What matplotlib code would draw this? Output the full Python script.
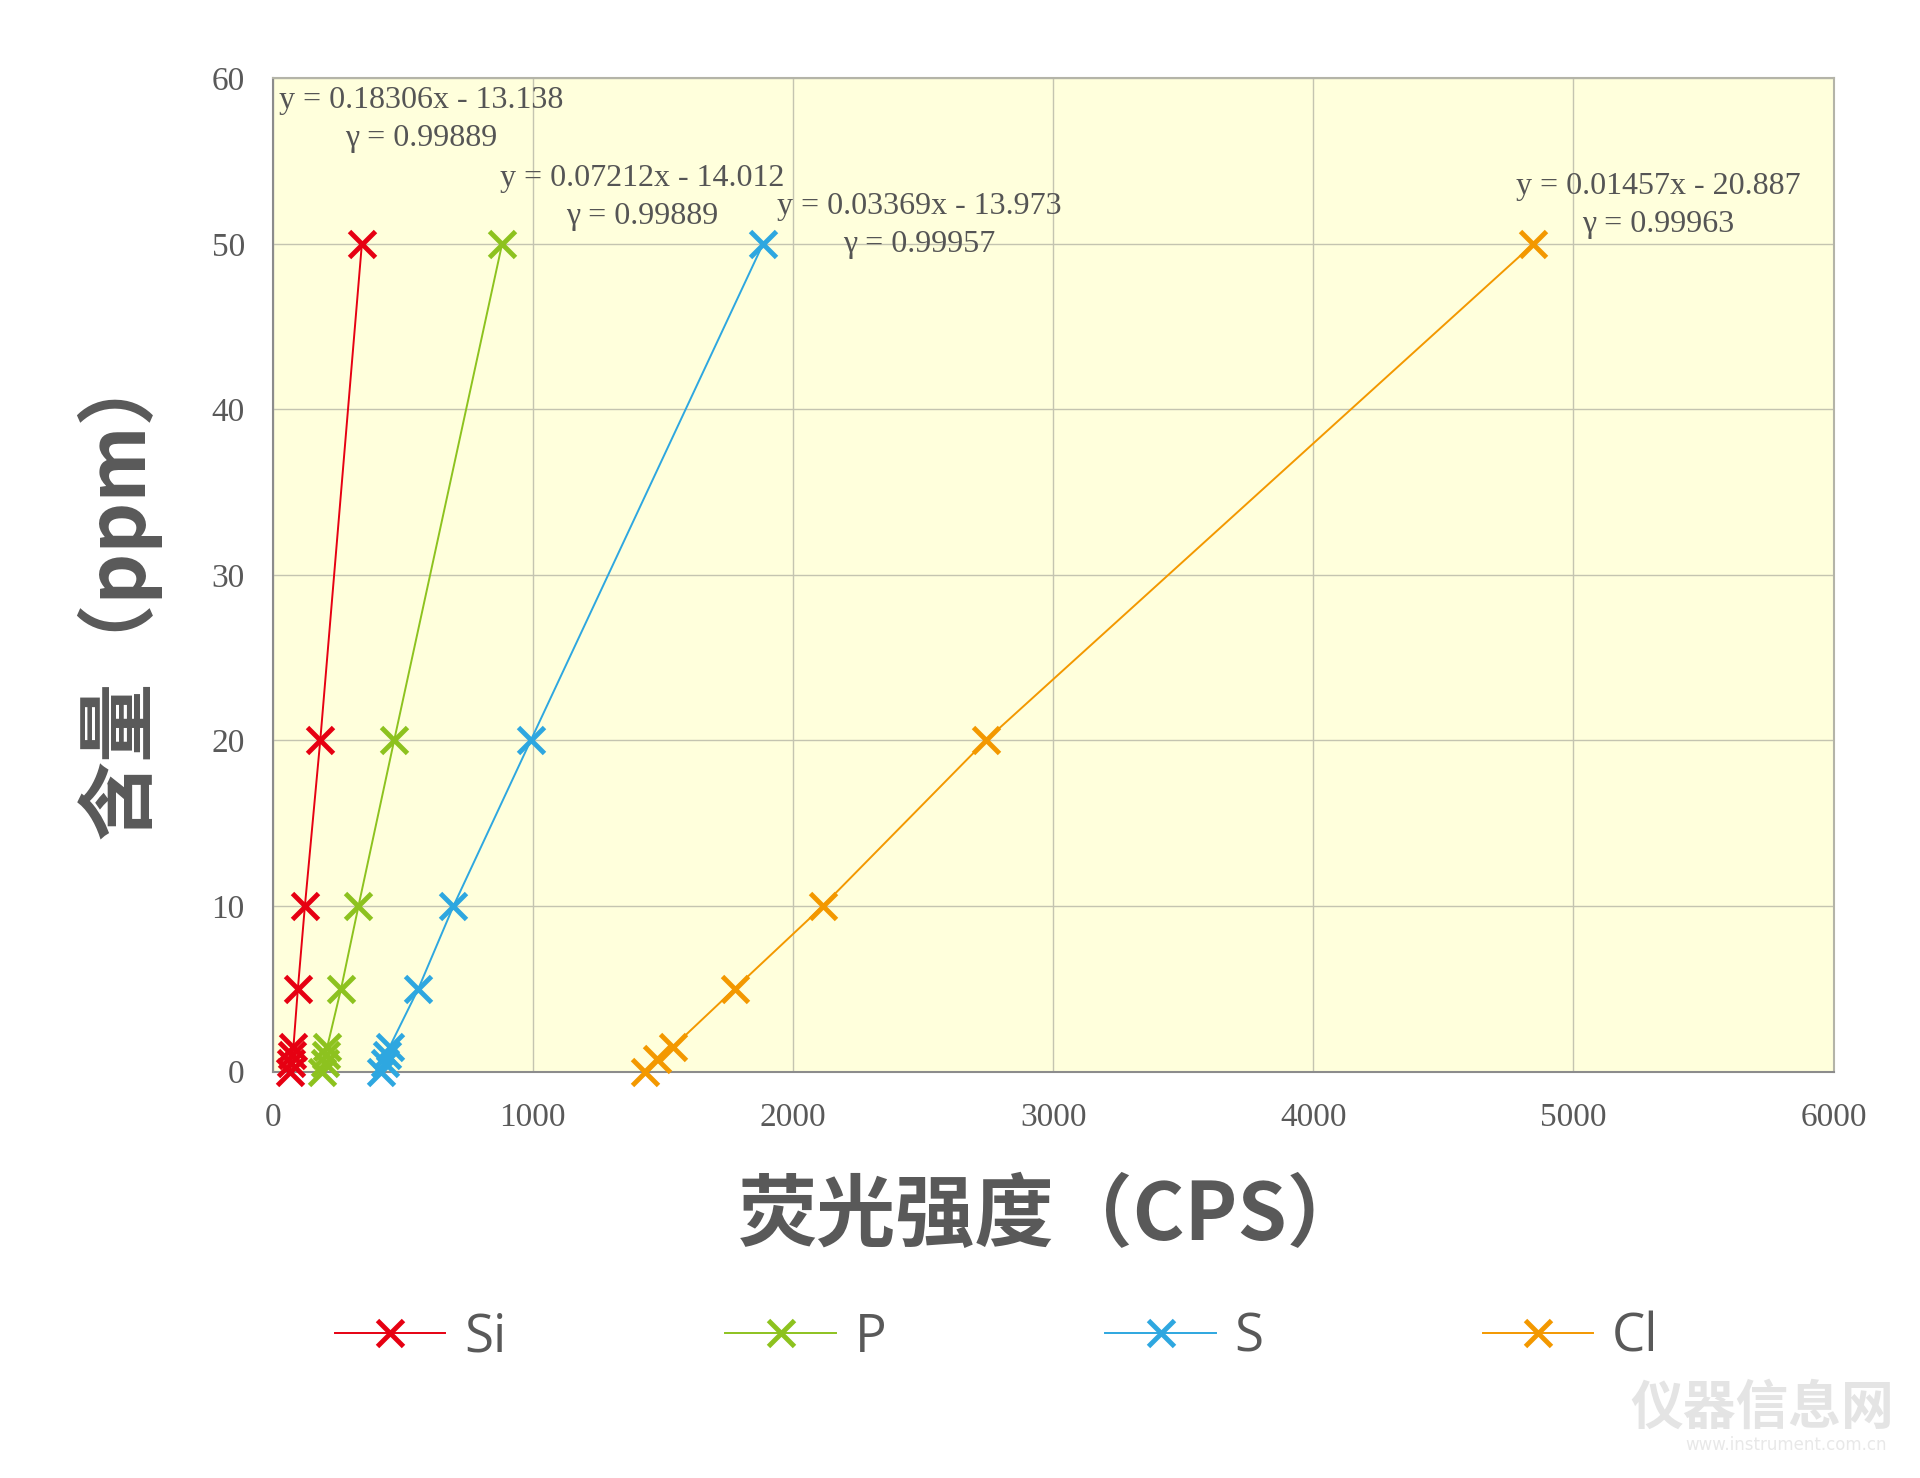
import numpy as np
import matplotlib
matplotlib.use('Agg')
import matplotlib.pyplot as plt

plt.rcParams['font.family'] = ['Liberation Serif', 'DejaVu Serif']

# concentrations (ppm) and fluorescence intensities (CPS)
conc = [0, 0.5, 1, 1.5, 5, 10, 20, 50]
si_cps = [68, 72, 76, 80, 97, 124, 183, 343]
p_cps = [190, 200, 205, 210, 263, 330, 467, 882]
s_cps = [415, 430, 440, 450, 560, 695, 992, 1885]
cl_conc = [0, 0.75, 1.5, 5, 10, 20, 50]
cl_cps = [1432, 1478, 1540, 1776, 2115, 2741, 4846]

names = ['Si', 'P', 'S', 'Cl']
colors = ['#e60012', '#8dc21f', '#2ea7e0', '#f39800']
fits = ['y = 0.18306x - 13.138\nγ = 0.99889',
        'y = 0.07212x - 14.012\nγ = 0.99889',
        'y = 0.03369x - 13.973\nγ = 0.99957',
        'y = 0.01457x - 20.887\nγ = 0.99963']
fit_pos = [(570, 57.5), (1422, 52.8), (2487, 51.1), (5327, 52.3)]

fig = plt.figure(figsize=(19.2, 14.78), dpi=100)
ax = fig.add_axes([0.142, 0.275, 0.813, 0.672])
ax.set_facecolor('#ffffdc')

series = [(si_cps, conc), (p_cps, conc), (s_cps, conc), (cl_cps, cl_conc)]
for (xs, ys), name, c in zip(series, names, colors):
    ax.plot(xs, ys, color=c, linewidth=1.4, marker='x', markersize=19,
            markeredgewidth=3.5, label=name, clip_on=False, zorder=3)

for txt, (tx, ty) in zip(fits, fit_pos):
    ax.text(tx, ty, txt, ha='center', va='center', multialignment='center',
            fontsize=23, color='#555555', linespacing=1.42, zorder=4)

ax.set_xlim(0, 6000)
ax.set_ylim(0, 60)
ax.set_xticks(np.arange(0, 6001, 1000))
ax.set_yticks(np.arange(0, 61, 10))
ax.grid(True, color='#c4c4b0', linewidth=1)
ax.set_axisbelow(True)
ax.tick_params(length=0, labelsize=24, labelcolor='#595959')
ax.tick_params(axis='x', pad=22)
ax.tick_params(axis='y', pad=20)
for side in ['left', 'bottom']:
    ax.spines[side].set_color('#8c8c8c')
    ax.spines[side].set_linewidth(1.5)
for side in ['top', 'right']:
    ax.spines[side].set_color('#b4b4a8')
    ax.spines[side].set_linewidth(1.5)

cjk = ['Noto Sans CJK SC', 'DejaVu Sans']
fig.text(0.548, 1 - 1216 / 1478, '荧光强度（CPS）', ha='center', va='center',
         fontsize=57, fontweight='bold', color='#595959', family=cjk)
fig.text(119 / 1920, 1 - 592 / 1478, '含量（ppm）', ha='center', va='center',
         rotation=90, fontsize=57, fontweight='bold', color='#595959', family=cjk)

leg = fig.legend(loc='center', bbox_to_anchor=(0.519, 1 - 1338 / 1478), ncol=4,
                 frameon=False, handlelength=2.1, columnspacing=4.15,
                 handletextpad=0.35, prop={'family': ['Open Sans', 'DejaVu Sans'], 'size': 38})
for t in leg.get_texts():
    t.set_color('#595959')

# faint watermark
fig.text(0.918, 0.047, '仪器信息网', ha='center', va='center', fontsize=38,
         fontweight='bold', color='#e4e4e4', family=cjk)
fig.text(0.93, 0.022, 'www.instrument.com.cn', ha='center', va='center',
         fontsize=12, color='#e8e8e8', family=['DejaVu Sans'])

fig.savefig('out.png', dpi=100, facecolor='white')
